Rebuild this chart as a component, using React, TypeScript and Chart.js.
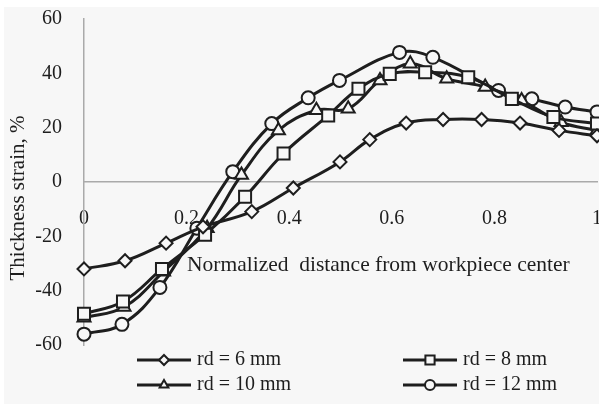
import React, { useEffect, useRef } from "react";
import { Chart, registerables } from "chart.js";
Chart.register(...registerables);

const seriesNames = ["rd = 6 mm", "rd = 8 mm", "rd = 10 mm", "rd = 12 mm"];
const pointStyles = ["rectRot", "rect", "triangle", "circle"];

const rd6X = [0, 0.08, 0.16, 0.232, 0.327, 0.408, 0.499, 0.557, 0.628, 0.7, 0.775, 0.85, 0.926, 1.0];
const rd6Y = [-32, -29, -22.5, -16.5, -10.9, -2.2, 7.4, 15.6, 21.7, 23, 23, 21.7, 19, 17];
const rd8X = [0, 0.076, 0.152, 0.236, 0.314, 0.389, 0.476, 0.535, 0.596, 0.665, 0.749, 0.834, 0.915, 1.0];
const rd8Y = [-48.5, -44, -32, -19.4, -5.4, 10.5, 24.5, 34.3, 39.8, 40.4, 38.6, 30.6, 23.9, 21.5];
const rd10X = [0, 0.078, 0.155, 0.24, 0.307, 0.379, 0.453, 0.515, 0.577, 0.636, 0.707, 0.782, 0.853, 0.93, 1.0];
const rd10Y = [-50, -46, -33, -17, 2.6, 19, 26.4, 27, 37.4, 43.5, 38, 35, 30, 22, 19];
const rd12X = [0, 0.074, 0.148, 0.22, 0.29, 0.366, 0.437, 0.498, 0.615, 0.68, 0.808, 0.873, 0.938, 1.0];
const rd12Y = [-56, -52.4, -38.8, -17, 3.8, 21.5, 31, 37.4, 47.7, 45.9, 33.7, 30.6, 27.6, 25.8];

const xTitle = "Normalized  distance from workpiece center";
const yTitle = "Thickness strain, %";

const BG = "#f7f7f7";
const INK = "#1e1e1e";
const FONT = "'Liberation Serif', 'DejaVu Serif', serif";

function drawMarker(ctx: CanvasRenderingContext2D, style: string, x: number, y: number, r: number) {
  ctx.beginPath();
  if (style === "circle") {
    ctx.arc(x, y, r, 0, Math.PI * 2);
  } else if (style === "rect") {
    const s = r * Math.SQRT1_2;
    ctx.rect(x - s, y - s, 2 * s, 2 * s);
  } else if (style === "rectRot") {
    ctx.moveTo(x, y - r);
    ctx.lineTo(x + r, y);
    ctx.lineTo(x, y + r);
    ctx.lineTo(x - r, y);
    ctx.closePath();
  } else {
    const a = Math.PI * 2 / 3;
    ctx.moveTo(x, y - r);
    ctx.lineTo(x + Math.sin(a) * r, y - Math.cos(a) * r);
    ctx.lineTo(x + Math.sin(2 * a) * r, y - Math.cos(2 * a) * r);
    ctx.closePath();
  }
  ctx.fillStyle = BG;
  ctx.fill();
  ctx.lineWidth = 2;
  ctx.strokeStyle = INK;
  ctx.stroke();
}

const bgPlugin = {
  id: "bgPlugin",
  beforeDraw(chart: any) {
    const ctx = chart.ctx;
    ctx.save();
    ctx.fillStyle = "#ffffff";
    ctx.fillRect(0, 0, chart.width, chart.height);
    ctx.fillStyle = BG;
    ctx.fillRect(4, 7, chart.width - 4, chart.height - 7);
    ctx.restore();
  },
};

const textPlugin = {
  id: "textPlugin",
  afterDraw(chart: any) {
    const ctx = chart.ctx;
    ctx.save();
    ctx.fillStyle = INK;
    ctx.font = `21.5px ${FONT}`;
    ctx.textBaseline = "middle";
    ctx.textAlign = "left";
    ctx.fillText(xTitle, 187, 265);
    ctx.save();
    ctx.translate(18, 198);
    ctx.rotate(-Math.PI / 2);
    ctx.textAlign = "center";
    ctx.font = `21px ${FONT}`;
    ctx.fillText(yTitle, 0, 0);
    ctx.restore();

    // legend
    const cols = [137, 403];
    const rows = [360, 385];
    ctx.font = `20px ${FONT}`;
    seriesNames.forEach((name, i) => {
      const x0 = cols[i % 2];
      const y0 = rows[Math.floor(i / 2)];
      ctx.beginPath();
      ctx.moveTo(x0, y0);
      ctx.lineTo(x0 + 54, y0);
      ctx.lineWidth = 3;
      ctx.strokeStyle = INK;
      ctx.stroke();
      drawMarker(ctx, pointStyles[i], x0 + 27, y0, pointStyles[i] === "rect" ? 6.5 : 5);
      ctx.fillStyle = INK;
      ctx.textAlign = "left";
      ctx.textBaseline = "middle";
      ctx.fillText(name, x0 + 60, y0);
    });
    ctx.restore();
  },
};

function zip(xs: number[], ys: number[]) {
  return xs.map((x, i) => ({ x, y: ys[i] }));
}

function zeroPad(scale: any) {
  scale.paddingLeft = 0;
  scale.paddingRight = 0;
  scale.paddingTop = 0;
  scale.paddingBottom = 0;
}

export default function App() {
  const ref = useRef<HTMLCanvasElement | null>(null);
  useEffect(() => {
    document.body.style.margin = "0";
    const canvas = ref.current;
    if (!canvas) return;
    const allX = [rd6X, rd8X, rd10X, rd12X];
    const allY = [rd6Y, rd8Y, rd10Y, rd12Y];
    const radii: Record<string, number> = { rectRot: 6.5, rect: 8.5, triangle: 7.5, circle: 6.5 };
    const chart = new Chart(canvas, {
      type: "scatter",
      data: {
        datasets: seriesNames.map((name, i) => ({
          label: name,
          data: zip(allX[i], allY[i]),
          showLine: true,
          tension: 0.4,
          clip: false as any,
          borderColor: INK,
          borderWidth: 3,
          pointStyle: pointStyles[i] as any,
          pointRadius: radii[pointStyles[i]],
          pointBorderWidth: 2,
          pointBackgroundColor: BG,
          pointBorderColor: INK,
        })),
      },
      options: {
        animation: false,
        responsive: true,
        maintainAspectRatio: false,
        layout: { autoPadding: false, padding: { top: 19, right: 2, bottom: 59, left: 0 } },
        plugins: { legend: { display: false }, tooltip: { enabled: false } },
        scales: {
          x: {
            type: "linear",
            position: { y: 0 } as any,
            min: 0,
            max: 1,
            ticks: {
              stepSize: 0.2,
              padding: 25,
              color: INK,
              font: { family: FONT, size: 20 },
              maxRotation: 0,
              callback: (v: any) => String(Number(Number(v).toFixed(1))),
            },
            grid: { display: false, drawTicks: false },
            border: { display: true, color: "#aaaaaa", width: 1.5 },
            afterFit: zeroPad,
          },
          y: {
            type: "linear",
            min: -60,
            max: 60,
            ticks: {
              stepSize: 20,
              padding: 22,
              color: INK,
              font: { family: FONT, size: 20 },
            },
            grid: { display: false, drawTicks: false },
            border: { display: true, color: "#aaaaaa", width: 1.5 },
            afterFit: (scale: any) => {
              scale.width = 84;
              zeroPad(scale);
            },
          },
        },
      },
      plugins: [bgPlugin, textPlugin],
    });
    return () => chart.destroy();
  }, []);
  return (
    <div style={{ width: 599, height: 404, position: "relative" }}>
      <canvas ref={ref} />
    </div>
  );
}
